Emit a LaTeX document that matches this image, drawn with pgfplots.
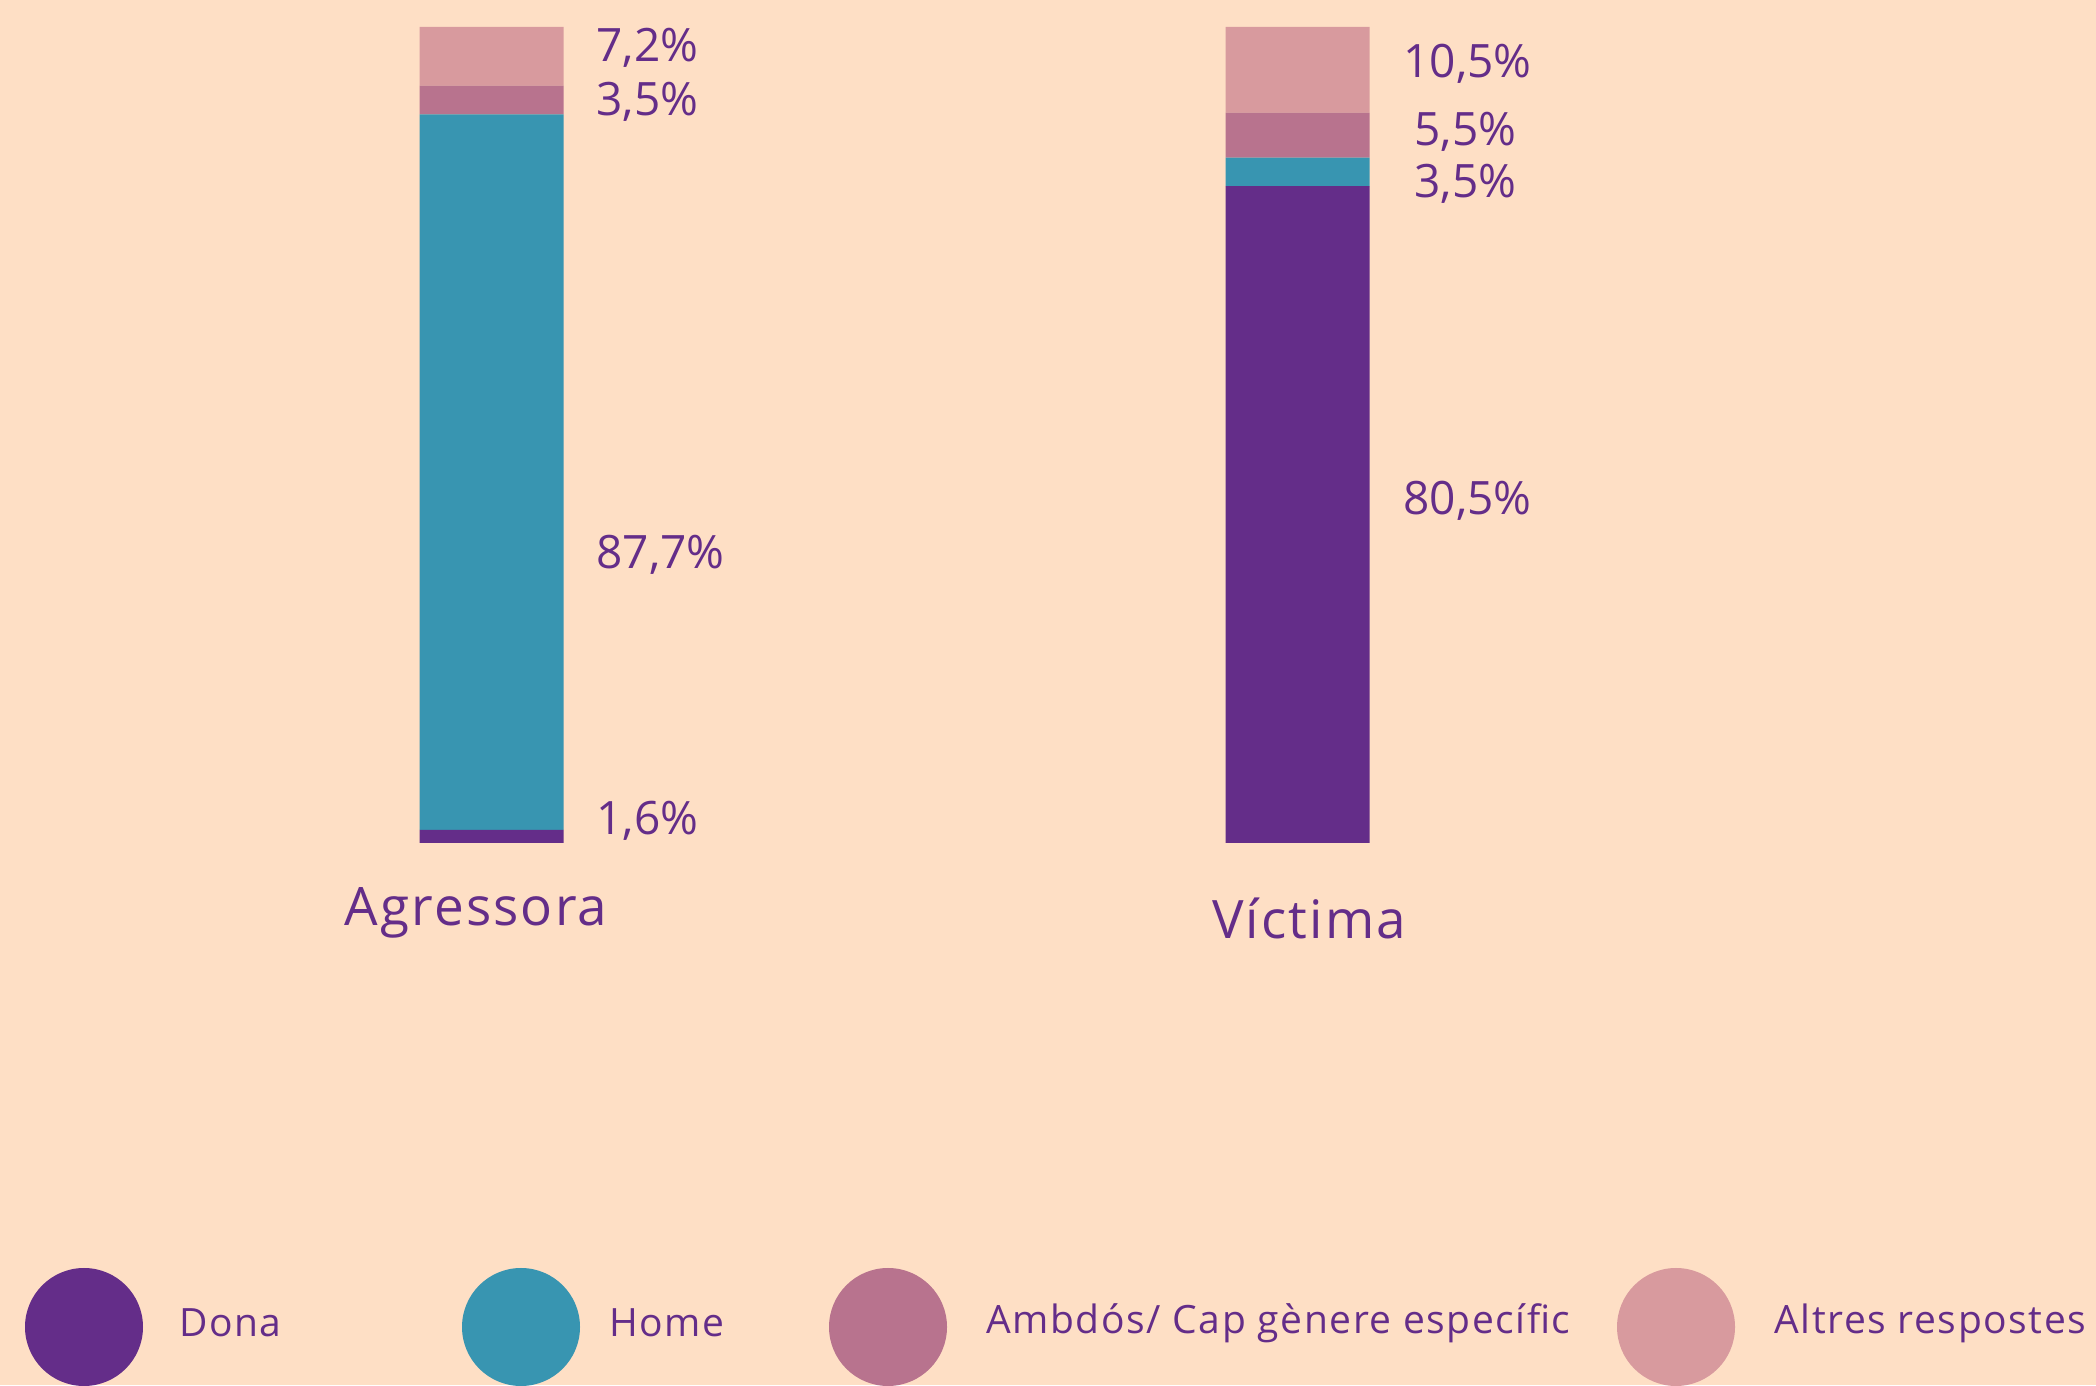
\documentclass[border=0pt]{standalone}
\usepackage{pgfplots}
\pgfplotsset{compat=1.18}
\usepackage{fontspec}
\setmainfont{Open Sans}
\newfontfamily\spaced[LetterSpace=4]{Open Sans}
\definecolor{bgc}{HTML}{FEDFC5}
\definecolor{dona}{HTML}{642D89}
\definecolor{home}{HTML}{3895B1}
\definecolor{ambdos}{HTML}{B8738E}
\definecolor{altres}{HTML}{D89A9E}
\definecolor{txt}{HTML}{642D89}
\tikzset{vlab/.style={anchor=west, inner sep=0pt, text=txt, font=\fontsize{23}{28}\selectfont},
         clab/.style={text=txt, font=\spaced\fontsize{26.5}{32}\selectfont},
         llab/.style={anchor=west, text=txt, font=\spaced\fontsize{19.5}{24}\selectfont, inner sep=0pt}}
\begin{document}
\begin{tikzpicture}
\useasboundingbox (0,0) rectangle (1048pt,692.5pt);
\fill[bgc] (0,0) rectangle (1048pt,692.5pt);
\begin{axis}[
  at={(0pt,271pt)}, anchor=south west,
  scale only axis, width=1048pt, height=408pt,
  xmin=-0.6098, xmax=1.9907, ymin=0, ymax=100,
  axis lines=none, ticks=none, clip=false,
  ybar stacked, bar width=72pt,
]
\addplot[fill=dona, draw=none] coordinates {(0,1.6) (1,80.5)};
\addplot[fill=home, draw=none] coordinates {(0,87.7) (1,3.5)};
\addplot[fill=ambdos, draw=none] coordinates {(0,3.5) (1,5.5)};
\addplot[fill=altres, draw=none] coordinates {(0,7.2) (1,10.5)};
\node[vlab] at (axis cs:0.1297,97.4) {7,2\%};
\node[vlab] at (axis cs:0.1297,90.8) {3,5\%};
\node[vlab] at (axis cs:0.1297,35.3) {87,7\%};
\node[vlab] at (axis cs:0.1297,2.7) {1,6\%};
\node[vlab] at (axis cs:1.1309,95.5) {10,5\%};
\node[vlab] at (axis cs:1.1446,87.1) {5,5\%};
\node[vlab] at (axis cs:1.1446,80.8) {3,5\%};
\node[vlab] at (axis cs:1.1309,41.9) {80,5\%};
\node[clab] at (axis cs:-0.0192,-8.6) {Agressora};
\node[clab] at (axis cs:1.0143,-9.2) {Víctima};
\end{axis}
\fill[dona] (42pt,29pt) circle (29.5pt);
\fill[home] (260.5pt,29pt) circle (29.5pt);
\fill[ambdos] (444pt,29pt) circle (29.5pt);
\fill[altres] (838pt,29pt) circle (29.5pt);
\node[llab] at (89.5pt,31pt) {Dona};
\node[llab] at (304.5pt,31pt) {Home};
\node[llab] at (493pt,31pt) {Ambdós/ Cap gènere específic};
\node[llab] at (887pt,31pt) {Altres respostes};
\end{tikzpicture}
\end{document}
